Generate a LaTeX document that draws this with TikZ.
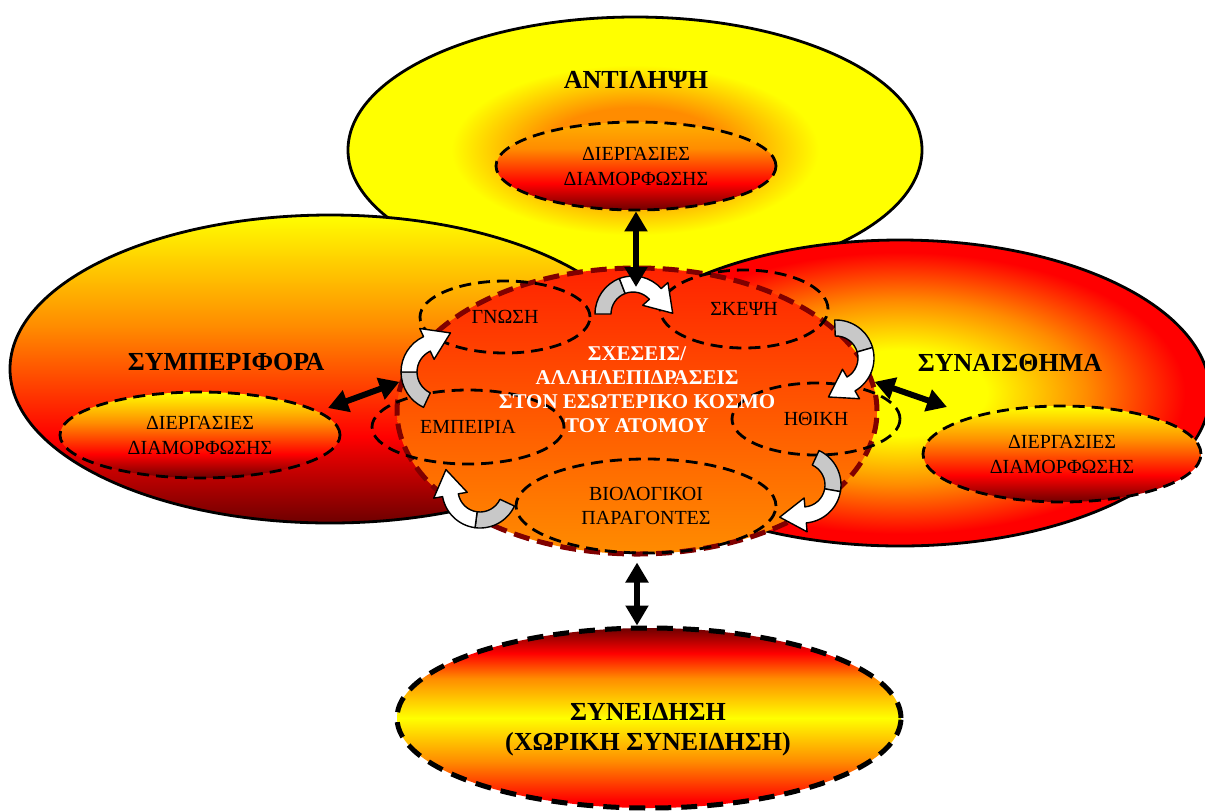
\documentclass[tikz,border=0pt]{standalone}
\usepackage{fontspec}
\setmainfont{Liberation Serif}
\usetikzlibrary{shapes.geometric,arrows.meta,calc}

\definecolor{fireYellow}{RGB}{255,255,0}
\definecolor{fireAmber}{RGB}{255,175,0}
\definecolor{fireOrange}{RGB}{255,140,0}
\definecolor{fireRed}{RGB}{255,0,0}
\definecolor{fireDark}{RGB}{110,0,0}
\definecolor{rimRed}{RGB}{128,0,0}
\definecolor{coreTop}{RGB}{255,35,0}
\definecolor{coreBottom}{RGB}{255,140,0}
\definecolor{bendGray}{RGB}{200,200,200}

% shadings: the path box is the middle 50bp of the 100bp shading
\pgfdeclareverticalshading{fireDown}{100bp}{color(0bp)=(fireDark); color(25bp)=(fireDark); color(39bp)=(fireRed); color(57bp)=(fireOrange); color(75bp)=(fireYellow); color(100bp)=(fireYellow)}
\pgfdeclareverticalshading{fireDownB}{100bp}{color(0bp)=(fireDark); color(25bp)=(fireDark); color(40bp)=(fireRed); color(60bp)=(fireOrange); color(75bp)=(fireAmber); color(100bp)=(fireAmber)}
\pgfdeclareverticalshading{fireBand}{100bp}{color(0bp)=(fireRed); color(27bp)=(fireRed); color(38bp)=(fireOrange); color(50bp)=(fireYellow); color(61bp)=(fireOrange); color(68bp)=(fireRed); color(75bp)=(fireDark); color(100bp)=(fireDark)}
\pgfdeclareradialshading{glowRed}{\pgfpoint{0bp}{0bp}}{color(0bp)=(fireYellow); color(7bp)=(fireYellow); color(15bp)=(fireOrange); color(23bp)=(fireRed); color(50bp)=(fireRed)}
\pgfdeclareradialshading{glowYellow}{\pgfpoint{0bp}{0bp}}{color(0bp)=(fireOrange); color(8bp)=(fireOrange); color(16bp)=(fireYellow); color(50bp)=(fireYellow)}

% curved block arrow: centre, radius, from angle, to angle
\newcommand{\bendArrow}[4]{%
  \pgfmathsetmacro{\bendMid}{(#3+#4)/2}
  \pgfmathsetmacro{\bendOut}{#2+8}
  \pgfmathsetmacro{\bendIn}{#2-8}
  \pgfmathsetmacro{\bendHo}{#2+17}
  \pgfmathsetmacro{\bendHi}{#2-17}
  \filldraw[bendBack] ($#1+(#3:\bendOut)$) arc[start angle=#3, end angle=\bendMid, radius=\bendOut]
    -- ($#1+(\bendMid:\bendIn)$) arc[start angle=\bendMid, end angle=#3, radius=\bendIn] -- cycle;
  \filldraw[bendFront] ($#1+(\bendMid:\bendOut)$) arc[start angle=\bendMid, end angle=#4, radius=\bendOut]
    -- ($#1+(#4:\bendHo)$) -- ($#1+(#4:#2)+(#4+90:26)$) -- ($#1+(#4:\bendHi)$)
    -- ($#1+(#4:\bendIn)$) arc[start angle=#4, end angle=\bendMid, radius=\bendIn] -- cycle;
}

\begin{document}
\begin{tikzpicture}[x=0.5pt,y=-0.5pt]
  \tikzstyle{outerBubble} = [ellipse, draw, line width=1.4pt, inner sep=0pt];
  \tikzstyle{innerBubble} = [ellipse, draw, line width=1.4pt, dash pattern=on 6pt off 3.5pt, inner sep=0pt, shading=fireDown, align=center, font={\fontsize{10}{12.5}\selectfont}];
  \tikzstyle{facetBubble} = [ellipse, draw, line width=1.4pt, dash pattern=on 6pt off 3.5pt, inner sep=0pt, align=center, font={\fontsize{10}{12}\selectfont}];
  \tikzstyle{coreBubble} = [ellipse, draw=rimRed, line width=2.5pt, dash pattern=on 8pt off 4pt, inner sep=0pt, top color=coreTop, bottom color=coreBottom];
  \tikzstyle{bigLabel} = [font={\fontsize{13}{15}\selectfont\bfseries}, align=center];
  \tikzstyle{linkArrow} = [line width=3pt, {Triangle[width=11pt,length=10pt]}-{Triangle[width=11pt,length=10pt]}];
  \tikzstyle{bendBack} = [fill=bendGray, draw=black, line width=0.7pt, line join=round];
  \tikzstyle{bendFront} = [fill=white, draw=black, line width=0.7pt, line join=round];

  \path[use as bounding box, fill=white] (0,0) rectangle (1205,810);

  % the three large fields
  \node[outerBubble, shading=glowYellow, minimum width=287pt, minimum height=133pt] (antOut) at (635,150) {};
  \node[outerBubble, shading=fireDown, minimum width=320pt, minimum height=154pt] (symOut) at (330,369) {};
  \node[outerBubble, shading=glowRed, minimum width=310pt, minimum height=153pt] (synOut) at (900,393) {};

  \node[innerBubble, shading=fireDownB, minimum width=140pt, minimum height=44pt] (antIn) at (636,166) {ΔΙΕΡΓΑΣΙΕΣ\\ΔΙΑΜΟΡΦΩΣΗΣ};
  \node[innerBubble, minimum width=140pt, minimum height=43pt] (symIn) at (200,435) {ΔΙΕΡΓΑΣΙΕΣ\\ΔΙΑΜΟΡΦΩΣΗΣ};
  \node[innerBubble, minimum width=139pt, minimum height=48pt] (synIn) at (1062,454) {ΔΙΕΡΓΑΣΙΕΣ\\ΔΙΑΜΟΡΦΩΣΗΣ};

  \node[bigLabel] (antTitle) at (636,80) {ΑΝΤΙΛΗΨΗ};
  \node[bigLabel] (symTitle) at (226,362) {ΣΥΜΠΕΡΙΦΟΡΑ};
  \node[bigLabel] (synTitle) at (1010,363) {ΣΥΝΑΙΣΘΗΜΑ};

  % centre and its parts
  \node[coreBubble, minimum width=240pt, minimum height=143pt] (centre) at (637,411) {};

  \node[facetBubble, minimum width=85pt, minimum height=36pt] (gnosi) at (505,317) {ΓΝΩΣΗ};
  \node[facetBubble, minimum width=84pt, minimum height=39pt] (skepsi) at (744,309) {ΣΚΕΨΗ};
  \node[facetBubble, minimum width=96pt, minimum height=37pt] (empeiria) at (468,427) {ΕΜΠΕΙΡΙΑ};
  \node[facetBubble, minimum width=84pt, minimum height=36pt] (ithiki) at (816,419) {ΗΘΙΚΗ};
  \node[facetBubble, minimum width=130pt, minimum height=47pt] (bio) at (646,506) {ΒΙΟΛΟΓΙΚΟΙ\\ΠΑΡΑΓΟΝΤΕΣ};

  \node[bigLabel, text=white, font={\fontsize{10.5}{12}\selectfont\bfseries}] (coreText) at (637,390) {ΣΧΕΣΕΙΣ/\\ΑΛΛΗΛΕΠΙΔΡΑΣΕΙΣ\\ΣΤΟΝ ΕΣΩΤΕΡΙΚΟ ΚΟΣΜΟ\\ΤΟΥ ΑΤΟΜΟΥ};

  % cycle of curved arrows
  \bendArrow{(633,314)}{30}{180}{318}
  \bendArrow{(836,358)}{30}{268}{420}
  \bendArrow{(803,485)}{30}{295}{445}
  \bendArrow{(480,490)}{30}{25}{170}
  \bendArrow{(440,372)}{31}{115}{245}

  % consciousness
  \node[ellipse, draw, line width=2.5pt, dash pattern=on 8pt off 5pt, inner sep=0pt, shading=fireBand, minimum width=252pt, minimum height=90pt] (cons) at (649,718) {};
  \node[bigLabel] (consText) at (648,730) {ΣΥΝΕΙΔΗΣΗ\\(ΧΩΡΙΚΗ ΣΥΝΕΙΔΗΣΗ)};

  % links
  \coordinate (antTip) at (636,287);
  \coordinate (symTip) at (328,408);
  \coordinate (synTip) at (947,407);
  \draw[linkArrow] (antIn.south) -- (antTip);
  \draw[linkArrow] (symTip) -- (centre.173);
  \draw[linkArrow] (centre.7) -- (synTip);
  \draw[linkArrow] ([yshift=-3pt]centre.south) -- (centre.south |- cons.north);
\end{tikzpicture}
\end{document}
